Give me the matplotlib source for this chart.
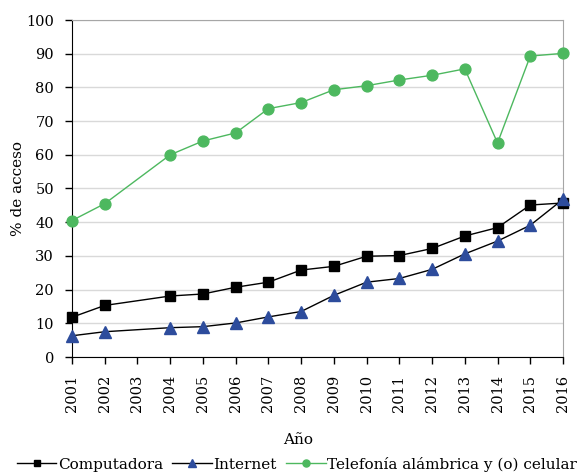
import matplotlib
matplotlib.use("Agg")
import matplotlib.pyplot as plt

years = [2001, 2002, 2004, 2005, 2006, 2007, 2008, 2009, 2010, 2011, 2012, 2013, 2014, 2015, 2016]
tick_years = list(range(2001, 2017))
computadora = [11.8, 15.3, 18.1, 18.7, 20.7, 22.2, 25.8, 26.9, 29.9, 30.1, 32.2, 35.9, 38.4, 45.1, 45.7]
internet = [6.3, 7.5, 8.7, 9.0, 10.1, 11.9, 13.5, 18.3, 22.2, 23.3, 26.0, 30.6, 34.4, 39.1, 46.8]
telefonia = [40.5, 45.5, 60.0, 64.1, 66.5, 73.7, 75.5, 79.3, 80.5, 82.2, 83.6, 85.5, 63.5, 89.3, 90.1]
labels = ["Computadora", "Internet", "Telefonía alámbrica y (o) celular"]

plt.rcParams['font.family'] = ['DejaVu Serif']

fig = plt.figure(figsize=(5.84, 4.73), dpi=100)
ax = fig.add_axes([72/584, 1-357/473, (563-72)/584, (357-20)/473])

green = '#4DB85F'
blue = '#2D4C9C'

ax.plot(years, computadora, color='black', lw=1, marker='s', ms=7.2, mfc='black', mec='black',
        label=labels[0], clip_on=False, zorder=4)
ax.plot(years, internet, color='black', lw=1, marker='^', ms=8, mfc=blue, mec=blue,
        label=labels[1], clip_on=False, zorder=5)
ax.plot(years, telefonia, color=green, lw=1, marker='o', ms=7.8, mfc=green, mec=green,
        label=labels[2], clip_on=False, zorder=3)

ax.set_xlim(2001, 2016)
ax.set_ylim(0, 100)
ax.set_yticks(range(0, 101, 10))
ax.set_xticks(tick_years)
ax.set_xticklabels([str(y) for y in tick_years], rotation=90)
ax.grid(axis='y', color='#D9D9D9', lw=1)
ax.set_axisbelow(True)

for s in ['top', 'right']:
    ax.spines[s].set_color('#A6A6A6')
for s in ['left', 'bottom']:
    ax.spines[s].set_color('black')
ax.tick_params(axis='both', direction='out', length=5, width=1, labelsize=10.5, color='black')
ax.tick_params(axis='y', pad=8)
ax.tick_params(axis='x', pad=8)

ax.set_ylabel('% de acceso', fontsize=11, labelpad=1)
fig.text(298/584, 1-440/473, 'Año', ha='center', va='center', fontsize=11)

fig.legend(loc='center', bbox_to_anchor=(297/584, 1-464/473), ncol=3, frameon=False,
           fontsize=11, handlelength=2.6, handletextpad=0.1, columnspacing=0.6, borderaxespad=0,
           markerscale=0.65)

fig.savefig('out.png', dpi=100)
